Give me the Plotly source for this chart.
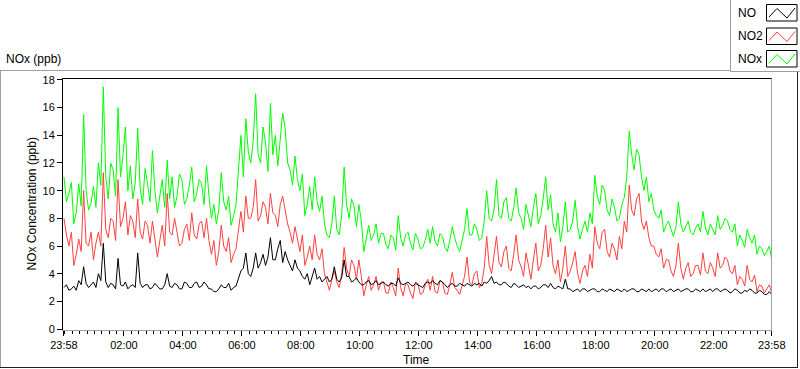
import pandas as pd
import plotly.graph_objects as go

# ---- data (5-minute readings, 23:58 -> 23:58 next day) ----
time_start = "2021-01-01 23:58"
n_points = 289

nox = [11.0, 9.2, 9.8, 10.6, 7.6, 8.4, 10.5, 8.9, 15.5, 10.0,
       8.6, 9.1, 10.3, 8.8, 12.0, 10.4, 17.5, 11.0, 9.4, 12.0,
       11.5, 9.6, 16.0, 11.0, 12.5, 14.6, 10.0, 11.8, 9.4, 10.6,
       14.5, 10.2, 9.0, 11.6, 10.5, 9.2, 12.9, 10.0, 8.4, 9.6,
       10.8, 8.8, 12.2, 9.4, 11.0, 8.8, 9.6, 11.2, 10.8, 9.0,
       9.4, 10.4, 11.7, 9.2, 9.8, 10.8, 10.5, 9.0, 11.8, 9.6,
       8.0, 9.0, 7.6, 8.6, 11.3, 9.2, 8.6, 9.6, 7.5, 8.2,
       9.0, 11.5, 14.0, 11.0, 15.2, 12.8, 12.0, 13.6, 17.0, 12.6,
       12.0, 14.6, 13.5, 11.4, 16.3, 12.6, 14.0, 11.8, 13.5, 15.6,
       14.5, 12.0, 11.5, 10.4, 12.5, 10.8, 10.0, 11.2, 8.2, 9.0,
       10.3, 8.6, 11.0, 9.2, 8.5, 9.6, 7.6, 6.8, 6.6, 7.6,
       9.6, 7.2, 6.8, 8.2, 11.7, 9.0, 8.0, 9.4, 8.9, 7.4,
       9.0, 7.8, 5.6, 6.6, 7.5, 6.4, 6.8, 7.6, 6.2, 6.9,
       6.9, 6.1, 5.8, 6.8, 6.6, 5.7, 8.2, 6.6, 6.0, 6.8,
       7.0, 6.2, 5.7, 6.9, 6.5, 5.8, 5.9, 6.4, 7.2, 6.2,
       7.4, 6.3, 6.0, 6.9, 6.7, 5.9, 5.6, 6.4, 7.4, 6.6,
       6.0, 5.6, 6.5, 7.2, 8.7, 6.8, 6.8, 7.6, 7.2, 6.4,
       6.6, 7.8, 10.0, 8.0, 7.8, 8.6, 10.8, 8.2, 8.0, 9.2,
       9.5, 8.0, 7.8, 8.8, 10.2, 8.4, 8.0, 7.2, 9.0, 8.2,
       7.4, 8.8, 9.8, 7.6, 8.2, 9.4, 11.0, 8.6, 9.7, 7.6,
       7.0, 8.4, 6.3, 7.4, 9.2, 7.0, 7.2, 7.8, 9.3, 7.4,
       6.5, 7.2, 7.8, 7.0, 8.4, 7.6, 11.1, 9.6, 9.0, 10.4,
       10.0, 8.6, 8.2, 9.4, 8.8, 7.8, 8.0, 9.0, 9.5, 11.0,
       14.3, 12.6, 11.5, 13.0, 12.6, 11.0, 10.0, 11.0, 9.2, 9.8,
       8.6, 8.2, 8.0, 8.6, 7.0, 7.5, 7.8, 7.2, 6.7, 7.4,
       9.2, 7.6, 7.0, 7.4, 7.8, 7.0, 6.8, 7.3, 7.6, 7.0,
       8.5, 7.3, 6.8, 7.6, 7.2, 6.8, 8.2, 7.2, 7.5, 8.0,
       7.8, 7.2, 7.0, 7.6, 6.0, 6.8, 6.4, 5.9, 7.2, 6.6,
       6.2, 6.8, 5.4, 6.0, 5.8, 5.3, 5.6, 6.0,
       5.0]

no2 = [8.0, 6.8, 6.0, 7.0, 4.6, 5.4, 6.5, 5.6, 10.0, 6.2,
       6.0, 7.0, 5.0, 6.2, 7.0, 6.0, 11.3, 7.2, 6.6, 8.0,
       7.8, 6.4, 10.8, 7.4, 8.0, 9.2, 6.8, 8.2, 7.8, 6.6,
       9.4, 7.0, 6.5, 7.8, 7.5, 6.2, 7.8, 6.6, 5.2, 6.4,
       7.5, 6.0, 9.8, 7.0, 6.8, 8.0, 7.0, 6.0, 6.2, 7.2,
       7.6, 6.4, 8.4, 6.8, 6.5, 7.6, 7.8, 6.6, 8.0, 6.4,
       5.4, 6.4, 4.6, 5.6, 7.5, 6.0, 5.6, 6.6, 4.8, 5.4,
       5.8, 7.2, 8.5, 7.0, 9.6, 8.0, 8.0, 8.8, 10.8, 7.8,
       8.2, 9.2, 8.8, 7.6, 9.8, 8.4, 8.2, 7.4, 9.0, 9.6,
       8.6, 7.6, 7.0, 6.2, 7.4, 6.4, 5.6, 6.8, 4.6, 5.2,
       6.0, 5.0, 6.8, 5.4, 5.0, 5.8, 4.0, 3.4, 2.8, 3.6,
       4.2, 3.4, 3.0, 4.0, 5.9, 4.4, 3.8, 5.0, 4.6, 3.6,
       5.0, 3.8, 2.4, 3.2, 3.8, 2.8, 3.2, 3.8, 2.8, 3.4,
       3.4, 2.6, 2.6, 3.4, 3.0, 2.4, 4.4, 3.0, 2.4, 3.3,
       3.2, 2.6, 2.2, 3.4, 3.3, 2.5, 2.6, 3.2, 3.6, 2.8,
       3.8, 2.7, 2.6, 3.5, 3.4, 2.6, 2.5, 3.2, 4.1, 3.0,
       2.8, 2.5, 3.2, 3.8, 5.2, 3.4, 3.2, 4.0, 4.2, 3.0,
       3.3, 4.4, 6.7, 4.6, 4.0, 5.2, 6.7, 4.8, 4.5, 5.6,
       6.0, 4.4, 4.2, 5.4, 6.8, 5.0, 4.5, 3.8, 5.5, 4.6,
       3.6, 5.0, 6.2, 4.2, 4.6, 5.8, 7.5, 5.2, 6.6, 4.6,
       4.0, 5.0, 3.4, 4.4, 6.0, 3.8, 4.2, 4.8, 5.6, 4.0,
       3.3, 4.2, 4.6, 3.8, 5.4, 4.4, 7.4, 6.2, 5.8, 7.0,
       7.2, 5.6, 5.2, 6.2, 5.8, 5.0, 6.7, 5.8, 7.8, 7.0,
       10.4, 8.6, 8.2, 9.4, 9.8, 7.8, 7.2, 7.8, 6.6, 6.0,
       6.0, 5.4, 5.2, 5.8, 4.4, 5.0, 5.0, 4.2, 3.8, 4.6,
       6.2, 4.4, 3.6, 4.4, 4.8, 3.8, 4.0, 4.6, 4.6, 3.9,
       5.5, 4.2, 4.0, 4.8, 4.4, 3.8, 5.5, 4.4, 4.6, 5.2,
       5.0, 4.2, 4.0, 4.6, 3.2, 3.8, 3.6, 3.1, 4.6, 3.6,
       3.4, 3.9, 2.7, 3.2, 3.1, 2.6, 2.9, 3.2,
       2.6]

no = [3.0, 3.2, 2.8, 2.9, 3.1, 2.8, 3.5, 3.2, 4.5, 3.3,
      3.0, 3.2, 3.4, 3.0, 4.0, 3.5, 6.2, 3.4, 3.0, 3.3,
      3.2, 2.9, 5.1, 3.2, 3.1, 3.4, 2.9, 3.1, 3.2, 3.0,
      5.5, 3.3, 3.0, 3.2, 3.2, 2.9, 3.0, 3.3, 3.1, 2.9,
      2.9, 3.2, 4.0, 3.1, 3.0, 3.3, 3.2, 2.9, 2.9, 3.4,
      3.3, 3.0, 3.0, 3.3, 3.4, 3.0, 3.1, 3.4, 3.2, 2.9,
      2.9, 2.7, 2.7, 2.9, 3.2, 3.0, 3.0, 3.3, 2.8, 3.0,
      3.1, 3.6, 4.2, 4.4, 5.5, 4.0, 3.8, 4.4, 5.5, 4.4,
      4.8, 5.4, 4.6, 5.2, 6.6, 5.0, 5.0, 5.8, 6.4, 4.8,
      5.6, 5.0, 4.6, 4.2, 5.0, 4.4, 4.2, 3.8, 3.6, 4.0,
      3.2, 3.8, 4.4, 3.6, 3.8, 3.4, 3.6, 3.8, 3.4, 3.6,
      4.5, 3.6, 3.4, 3.7, 5.0, 3.8, 3.8, 3.4, 3.5, 3.7,
      3.4, 3.2, 3.2, 3.4, 3.5, 3.2, 3.3, 3.5, 3.2, 3.3,
      3.4, 3.2, 3.1, 3.3, 3.3, 3.1, 3.7, 3.3, 3.2, 3.3,
      3.4, 3.2, 3.1, 3.3, 3.2, 3.1, 3.0, 3.3, 3.4, 3.3,
      3.5, 3.3, 3.2, 3.5, 3.4, 3.2, 3.0, 3.2, 3.3, 3.1,
      3.1, 3.3, 3.2, 3.1, 3.3, 3.2, 3.1, 3.3, 3.2, 3.3,
      3.1, 3.4, 3.3, 3.5, 3.8, 3.3, 3.4, 3.2, 3.2, 3.4,
      3.3, 3.1, 3.0, 3.3, 3.2, 3.0, 3.1, 3.2, 3.0, 3.1,
      2.9, 3.1, 3.1, 2.9, 3.0, 3.2, 3.2, 3.0, 3.3, 3.0,
      2.9, 3.1, 3.0, 2.9, 3.6, 2.9, 2.9, 2.7, 2.8, 2.9,
      2.7, 2.9, 2.9, 2.7, 2.8, 2.9, 2.9, 2.7, 2.7, 2.9,
      2.8, 2.7, 2.9, 2.8, 2.7, 2.9, 2.8, 2.7, 2.9, 2.7,
      2.8, 2.9, 2.9, 2.7, 2.7, 2.9, 2.8, 2.7, 2.9, 2.7,
      2.8, 2.9, 2.7, 2.9, 2.9, 2.7, 2.8, 2.9, 2.7, 2.8,
      2.9, 2.7, 2.8, 2.9, 2.9, 2.7, 2.7, 2.9, 2.8, 2.7,
      2.9, 2.7, 2.8, 2.9, 2.7, 2.9, 2.9, 2.7, 2.8, 2.9,
      2.8, 2.6, 2.7, 2.9, 2.8, 2.6, 2.6, 2.8, 2.7, 2.9,
      2.8, 2.6, 2.6, 2.8, 2.7, 2.5, 2.5, 2.7,
      2.5]

tick_vals = ["2021-01-01 23:58", "2021-01-02 02:00", "2021-01-02 04:00",
             "2021-01-02 06:00", "2021-01-02 08:00", "2021-01-02 10:00",
             "2021-01-02 12:00", "2021-01-02 14:00", "2021-01-02 16:00",
             "2021-01-02 18:00", "2021-01-02 20:00", "2021-01-02 22:00",
             "2021-01-02 23:58"]
tick_text = ["23:58", "02:00", "04:00", "06:00", "08:00", "10:00", "12:00",
             "14:00", "16:00", "18:00", "20:00", "22:00", "23:58"]
y_ticks = [0, 2, 4, 6, 8, 10, 12, 14, 16, 18]

series_names = ["NO", "NO2", "NOx"]
series_colors = ["#000000", "#ff4040", "#00ff00"]

times = pd.date_range(time_start, periods=n_points, freq="5min")
assert len(nox) == len(no2) == len(no) == n_points, (len(nox), len(no2), len(no))

W, H = 800, 369
L, R, T, B = 63, 28, 79, 39
PW, PH = W - L - R, H - T - B


def px(x):
    return (x - L) / PW


def py(y):
    return (H - B - y) / PH


FONT = "Liberation Sans"

fig = go.Figure()
for name, vals, col in [("NOx", nox, series_colors[2]),
                        ("NO2", no2, series_colors[1]),
                        ("NO", no, series_colors[0])]:
    fig.add_trace(go.Scatter(x=times, y=vals, mode="lines", name=name,
                             line=dict(color=col, width=1), showlegend=False,
                             hoverinfo="skip"))

shapes = []


def line(x0, y0, x1, y1, color, width=1):
    shapes.append(dict(type="line", xref="paper", yref="paper",
                       x0=px(x0), y0=py(y0), x1=px(x1), y1=py(y1),
                       line=dict(color=color, width=width)))


# outer frame (bevel)
line(0.5, 70.5, 0.5, 367.5, "#a0a0a0")
line(0, 70.5, 731, 70.5, "#a0a0a0")
line(797.5, 70, 797.5, 368, "#202020")
line(0, 367.5, 798, 367.5, "#202020")
# plot frame
line(62, 78.5, 772, 78.5, "#000000")
line(771.5, 78.5, 771.5, 330, "#a0a0a0")

# legend box
shapes.append(dict(type="rect", xref="paper", yref="paper",
                   x0=px(730), y0=py(0), x1=px(800), y1=py(72),
                   fillcolor="white", line=dict(width=0)))
line(730.5, 0, 730.5, 72, "#a0a0a0")
line(730, 71.5, 800, 71.5, "#a0a0a0")

annotations = []
box_tops = [4.5, 28, 50.5]
label_y = [13, 36, 59]
for name, col, top, ly in zip(series_names, series_colors, box_tops, label_y):
    shapes.append(dict(type="rect", xref="paper", yref="paper",
                       x0=px(766.5), y0=py(top), x1=px(797), y1=py(top + 16.5),
                       fillcolor="white", line=dict(color="#000000", width=1)))
    pts = [(769, top + 12.5), (777, top + 4), (787, top + 13.5), (795, top + 3.5)]
    path = "M " + " L ".join(f"{px(a)},{py(b)}" for a, b in pts)
    shapes.append(dict(type="path", xref="paper", yref="paper", path=path,
                       line=dict(color=col, width=1)))
    annotations.append(dict(text=name, x=px(736), y=py(ly), xref="paper", yref="paper",
                            xanchor="left", yanchor="middle", showarrow=False,
                            font=dict(family=FONT, size=12, color="#000000")))

annotations.append(dict(text="NOx (ppb)", x=px(4), y=py(58.5), xref="paper", yref="paper",
                        xanchor="left", yanchor="middle", showarrow=False,
                        font=dict(family=FONT, size=12, color="#000000")))
annotations.append(dict(text="NOx Concentration (ppb)", x=px(31), y=py(204.5),
                        xref="paper", yref="paper", xanchor="center", yanchor="middle",
                        textangle=-90, showarrow=False,
                        font=dict(family=FONT, size=12, color="#000000")))
annotations.append(dict(text="Time", x=px(416), y=py(360), xref="paper", yref="paper",
                        xanchor="center", yanchor="middle", showarrow=False,
                        font=dict(family=FONT, size=12, color="#000000")))

fig.update_layout(
    width=W, height=H,
    margin=dict(l=L, r=R, t=T, b=B, pad=0),
    paper_bgcolor="white", plot_bgcolor="white",
    shapes=shapes, annotations=annotations,
    hovermode=False,
    font=dict(family=FONT, size=11, color="#000000"),
    xaxis=dict(
        type="date",
        range=["2021-01-01 23:56", "2021-01-02 23:58:30"],
        tickmode="array", tickvals=tick_vals, ticktext=tick_text,
        ticks="outside", ticklen=5, tickwidth=1, tickcolor="#000000",
        showgrid=False, zeroline=False,
        showline=True, linecolor="#a0a0a0", linewidth=1,
        tickfont=dict(family=FONT, size=11, color="#000000"),
        minor=dict(tickmode="linear", tick0="2021-01-02 00:00", dtick=900000,
                   ticks="outside", ticklen=3, tickwidth=1, tickcolor="#000000",
                   showgrid=False),
    ),
    yaxis=dict(
        range=[-0.07, 18.07],
        tickmode="array", tickvals=y_ticks,
        ticks="outside", ticklen=5, tickwidth=1, tickcolor="#000000",
        showgrid=False, zeroline=False,
        showline=True, linecolor="#000000", linewidth=1,
        tickfont=dict(family=FONT, size=11, color="#000000"),
    ),
)

fig.write_html("out.html",
               config={"displayModeBar": False, "staticPlot": True},
               post_script="document.body.style.margin='0';"
                           "document.body.style.overflow='hidden';")
